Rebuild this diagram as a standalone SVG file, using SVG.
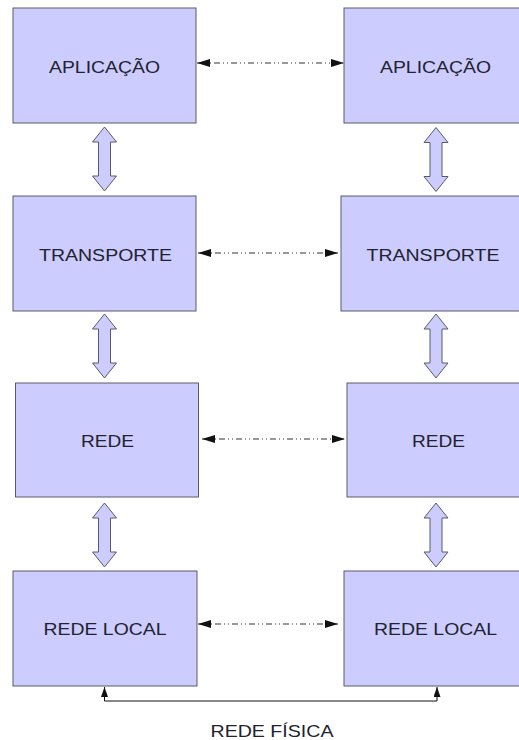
<svg xmlns="http://www.w3.org/2000/svg" width="519" height="740" viewBox="0 0 519 740">
  <style>
    .layer rect { fill: #ccccff; stroke: #5a5a66; stroke-width: 1; }
    .layer text, .caption { font-family: "Liberation Sans", Arial, sans-serif; font-size: 17px; fill: #22222e; text-anchor: middle; }
    .peer { stroke: #333; stroke-width: 1; fill: none; stroke-dasharray: 6 3 1 3 1 3; marker-start: url(#tip); marker-end: url(#tip); }
    .stack { fill: #ccccff; stroke: #5a5a66; stroke-width: 1; stroke-linejoin: miter; }
    .wire { stroke: #111; stroke-width: 1; fill: none; marker-start: url(#small); marker-end: url(#small); }
  </style>
  <defs>
    <marker id="tip" viewBox="0 0 13 8" refX="13" refY="4" markerWidth="13" markerHeight="8" markerUnits="userSpaceOnUse" orient="auto-start-reverse">
      <path d="M0,0 L13,4 L0,8 Z" fill="#111"/>
    </marker>
    <marker id="small" viewBox="0 0 10 7" refX="10" refY="3.5" markerWidth="10" markerHeight="7" markerUnits="userSpaceOnUse" orient="auto-start-reverse">
      <path d="M0,0 L10,3.5 L0,7 Z" fill="#111"/>
    </marker>
    <!-- vertical double block arrow, 64 tall, centred on x=0, top at y=0 -->
    <path id="dbl" d="M0,0 L12,15 L6,15 L6,49 L12,49 L0,64 L-12,49 L-6,49 L-6,15 L-12,15 Z"/>
  </defs>

  <!-- left stack -->
  <g id="app-left" class="layer"><rect x="13" y="8" width="183" height="115"/><text x="104.5" y="73" textLength="111" lengthAdjust="spacingAndGlyphs">APLICAÇÃO</text></g>
  <g id="transp-left" class="layer"><rect x="13" y="196" width="183" height="115"/><text x="105.5" y="261" textLength="133" lengthAdjust="spacingAndGlyphs">TRANSPORTE</text></g>
  <g id="rede-left" class="layer"><rect x="15.5" y="383" width="183" height="114"/><text x="107.5" y="447" textLength="53" lengthAdjust="spacingAndGlyphs">REDE</text></g>
  <g id="local-left" class="layer"><rect x="13" y="571" width="184" height="115"/><text x="105" y="635" textLength="123" lengthAdjust="spacingAndGlyphs">REDE LOCAL</text></g>

  <!-- right stack -->
  <g id="app-right" class="layer"><rect x="344" y="8" width="184" height="115"/><text x="435.5" y="73" textLength="111" lengthAdjust="spacingAndGlyphs">APLICAÇÃO</text></g>
  <g id="transp-right" class="layer"><rect x="341" y="196" width="184" height="115"/><text x="433" y="261" textLength="133" lengthAdjust="spacingAndGlyphs">TRANSPORTE</text></g>
  <g id="rede-right" class="layer"><rect x="347" y="383" width="184" height="114"/><text x="438.5" y="447" textLength="53" lengthAdjust="spacingAndGlyphs">REDE</text></g>
  <g id="local-right" class="layer"><rect x="344" y="571" width="184" height="115"/><text x="435.5" y="635" textLength="123" lengthAdjust="spacingAndGlyphs">REDE LOCAL</text></g>

  <g id="connectors">
    <!-- peer-to-peer links -->
    <line class="peer" x1="197" y1="63" x2="344" y2="63"/>
    <line class="peer" x1="198" y1="253" x2="338" y2="253"/>
    <line class="peer" x1="202" y1="439" x2="345" y2="439"/>
    <line class="peer" x1="198" y1="624" x2="338" y2="624"/>

    <!-- stack interfaces -->
    <use href="#dbl" class="stack" x="104.5" y="127"/>
    <use href="#dbl" class="stack" x="104.5" y="314"/>
    <use href="#dbl" class="stack" x="104.5" y="503"/>
    <use href="#dbl" class="stack" x="436" y="127.5"/>
    <use href="#dbl" class="stack" x="436" y="314"/>
    <use href="#dbl" class="stack" x="436" y="503"/>

    <!-- physical medium -->
    <path class="wire" d="M104.5,687 V701 H437 V687"/>
  </g>

  <text id="physical" class="caption" x="272" y="737" textLength="123" lengthAdjust="spacingAndGlyphs">REDE FÍSICA</text>
</svg>
